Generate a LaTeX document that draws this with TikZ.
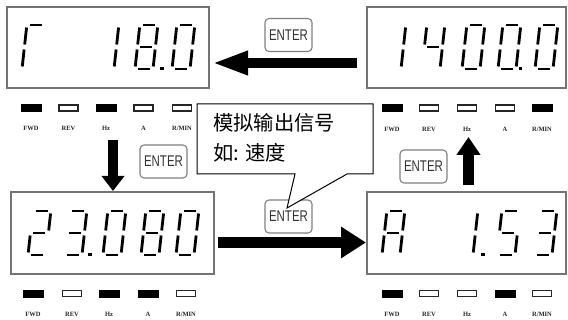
\documentclass[tikz,border=0pt]{standalone}
\usepackage{fontspec}
\newfontfamily\cjkf{Noto Sans CJK SC}
\newfontfamily\entf{Liberation Sans}
\newfontfamily\labf{Liberation Serif}
\usetikzlibrary{arrows.meta}
\tikzset{
  disp/.style={draw=black!55, line width=1.3pt, minimum height=81pt, inner sep=0pt},
  seg/.style={line width=2.8pt, line cap=butt, black},
  ledon/.style={fill=black, draw=black, line width=0.8pt, minimum width=20pt, minimum height=7pt, inner sep=0pt},
  ledoff/.style={fill=white, draw=black!85, line width=1.1pt, minimum width=19pt, minimum height=6pt, inner sep=0pt},
  ledlab/.style={font=\labf\bfseries\fontsize{6.5}{7}\selectfont, inner sep=0pt, text=black!85},
  enterbtn/.style={draw=black!50, line width=1.1pt, rounded corners=4pt, minimum width=47pt, minimum height=33pt, inner sep=0pt, text=black!80, font=\entf\fontsize{15.5}{16}\selectfont},
  cjktext/.style={font=\cjkf\fontsize{20.3}{21}\selectfont, inner sep=0pt, anchor=west},
  callout/.style={draw=black, line width=1pt, fill=white, line join=miter},
}
\newcommand\sgA{\draw[seg] (3,44)--(15,44);}
\newcommand\sgB{\draw[seg] (18,41.5)--(18,24.5);}
\newcommand\sgC{\draw[seg] (18,19.5)--(18,2.5);}
\newcommand\sgD{\draw[seg] (3,0)--(15,0);}
\newcommand\sgE{\draw[seg] (0,19.5)--(0,2.5);}
\newcommand\sgF{\draw[seg] (0,41.5)--(0,24.5);}
\newcommand\sgG{\draw[seg] (3,22)--(15,22);}
\newcommand\sgP[1]{\fill (#1-1.5,-1.4) rectangle (#1+1.5,1.6);}
\newcommand\sevseg[3]{\begin{scope}[shift={(#1,#2)},x={(1pt,0pt)},y={(0.11pt,1pt)}]#3\end{scope}}
\begin{document}
\begin{tikzpicture}[x=1pt,y=-1pt]
\fill[white] (0,0) rectangle (568,320);
\useasboundingbox (0,0) rectangle (568,320);

% displays
\node[disp, minimum width=202pt] (dTL) at (108,47.5) {};
\node[disp, minimum width=199pt] (dTR) at (466.5,47.5) {};
\node[disp, minimum width=203pt, minimum height=82pt] (dBL) at (112.5,233) {};
\node[disp, minimum width=199pt, minimum height=82pt] (dBR) at (466.5,233) {};

% digits top-left: r 18.0
\sevseg{22}{69}{\sgA\sgE\sgF}
\sevseg{96}{69}{\sgB\sgC}
\sevseg{135}{69}{\sgA\sgB\sgC\sgD\sgE\sgF\sgG\sgP{27}}
\sevseg{172}{69}{\sgA\sgB\sgC\sgD\sgE\sgF}
% top-right: 1400.0
\sevseg{383}{69}{\sgB\sgC}
\sevseg{422}{69}{\sgB\sgC\sgF\sgG}
\sevseg{462}{69}{\sgA\sgB\sgC\sgD\sgE\sgF}
\sevseg{498}{69}{\sgA\sgB\sgC\sgD\sgE\sgF\sgP{22.5}}
\sevseg{535}{69}{\sgA\sgB\sgC\sgD\sgE\sgF}
% bottom-left: 23.080
\sevseg{28}{255}{\sgA\sgB\sgG\sgE\sgD}
\sevseg{64}{255}{\sgA\sgB\sgG\sgC\sgD\sgP{26}}
\sevseg{103}{255}{\sgA\sgB\sgC\sgD\sgE\sgF}
\sevseg{141}{255}{\sgA\sgB\sgC\sgD\sgE\sgF\sgG}
\sevseg{176}{255}{\sgA\sgB\sgC\sgD\sgE\sgF}
% bottom-right: A 1.53
\sevseg{382}{255}{\sgA\sgB\sgC\sgE\sgF\sgG}
\sevseg{455}{255}{\sgB\sgC\sgP{28}}
\sevseg{497}{255}{\sgA\sgF\sgG\sgC\sgD}
\sevseg{534}{255}{\sgA\sgB\sgG\sgC\sgD}

% LEDs top-left
\node[ledon]  (l1a) at (31,108) {};
\node[ledoff] (l1b) at (68.5,108) {};
\node[ledon]  (l1c) at (106,108) {};
\node[ledoff] (l1d) at (143.5,108) {};
\node[ledoff] (l1e) at (182,108) {};
\node[ledlab] (m1a) at (31,128) {FWD};
\node[ledlab] (m1b) at (68.5,128) {REV};
\node[ledlab] (m1c) at (106,128) {Hz};
\node[ledlab] (m1d) at (143.5,128) {A};
\node[ledlab] (m1e) at (182,128) {R/MIN};
% LEDs top-right
\node[ledon]  (l2a) at (392,108) {};
\node[ledoff] (l2b) at (429,108) {};
\node[ledoff] (l2c) at (467,108) {};
\node[ledoff] (l2d) at (505,108) {};
\node[ledon]  (l2e) at (542,108) {};
\node[ledlab] (m2a) at (392,129) {FWD};
\node[ledlab] (m2b) at (429,129) {REV};
\node[ledlab] (m2c) at (467,129) {Hz};
\node[ledlab] (m2d) at (505,129) {A};
\node[ledlab] (m2e) at (542,129) {R/MIN};
% LEDs bottom-left
\node[ledon]  (l3a) at (33,293.5) {};
\node[ledoff] (l3b) at (72,293.5) {};
\node[ledon]  (l3c) at (109,293.5) {};
\node[ledon]  (l3d) at (148,293.5) {};
\node[ledoff] (l3e) at (186,293.5) {};
\node[ledlab] (m3a) at (33,314) {FWD};
\node[ledlab] (m3b) at (72,314) {REV};
\node[ledlab] (m3c) at (109,314) {Hz};
\node[ledlab] (m3d) at (148,314) {A};
\node[ledlab] (m3e) at (186,314) {R/MIN};
% LEDs bottom-right
\node[ledon]  (l4a) at (392,293.5) {};
\node[ledoff] (l4b) at (429,293.5) {};
\node[ledoff] (l4c) at (467,293.5) {};
\node[ledon]  (l4d) at (505,293.5) {};
\node[ledoff] (l4e) at (542,293.5) {};
\node[ledlab] (m4a) at (392,314) {FWD};
\node[ledlab] (m4b) at (429,314) {REV};
\node[ledlab] (m4c) at (467,314) {Hz};
\node[ledlab] (m4d) at (505,314) {A};
\node[ledlab] (m4e) at (542,314) {R/MIN};

% arrows
\coordinate (a1s) at (357,63);
\coordinate (a1e) at (212,63);
\coordinate (a2s) at (113,140);
\coordinate (a2e) at (113,191);
\coordinate (a3s) at (218,242.5);
\coordinate (a3e) at (366,242.5);
\coordinate (a4s) at (468.5,185);
\coordinate (a4e) at (468.5,137);
\draw[line width=10pt, -{Triangle[length=36pt,width=22pt]}] (a1s) -- (a1e);
\draw[line width=10pt, -{Triangle[length=15pt,width=22pt]}] (a2s) -- (a2e);
\draw[line width=11pt, -{Triangle[length=25pt,width=30pt]}] (a3s) -- (a3e);
\draw[line width=11pt, -{Triangle[length=18pt,width=23pt]}] (a4s) -- (a4e);

% ENTER buttons
\node[enterbtn] (eT) at (288.5,35) {\scalebox{0.74}[1]{ENTER}};
\node[enterbtn] (eL) at (163.5,161.5) {\scalebox{0.74}[1]{ENTER}};
\node[enterbtn] (eB) at (288.5,216.5) {\scalebox{0.74}[1]{ENTER}};
\node[enterbtn] (eR) at (423.5,166.5) {\scalebox{0.74}[1]{ENTER}};

% callout
\coordinate (ctip) at (287,208);
\draw[callout] (197,104) -- (373,104) -- (373,174) -- (347,174) -- (ctip) -- (295,174) -- (197,174) -- cycle;
\node[cjktext] (t1) at (213,123) {模拟输出信号};
\node[cjktext] (t2) at (213,153) {如: 速度};
\end{tikzpicture}
\end{document}
